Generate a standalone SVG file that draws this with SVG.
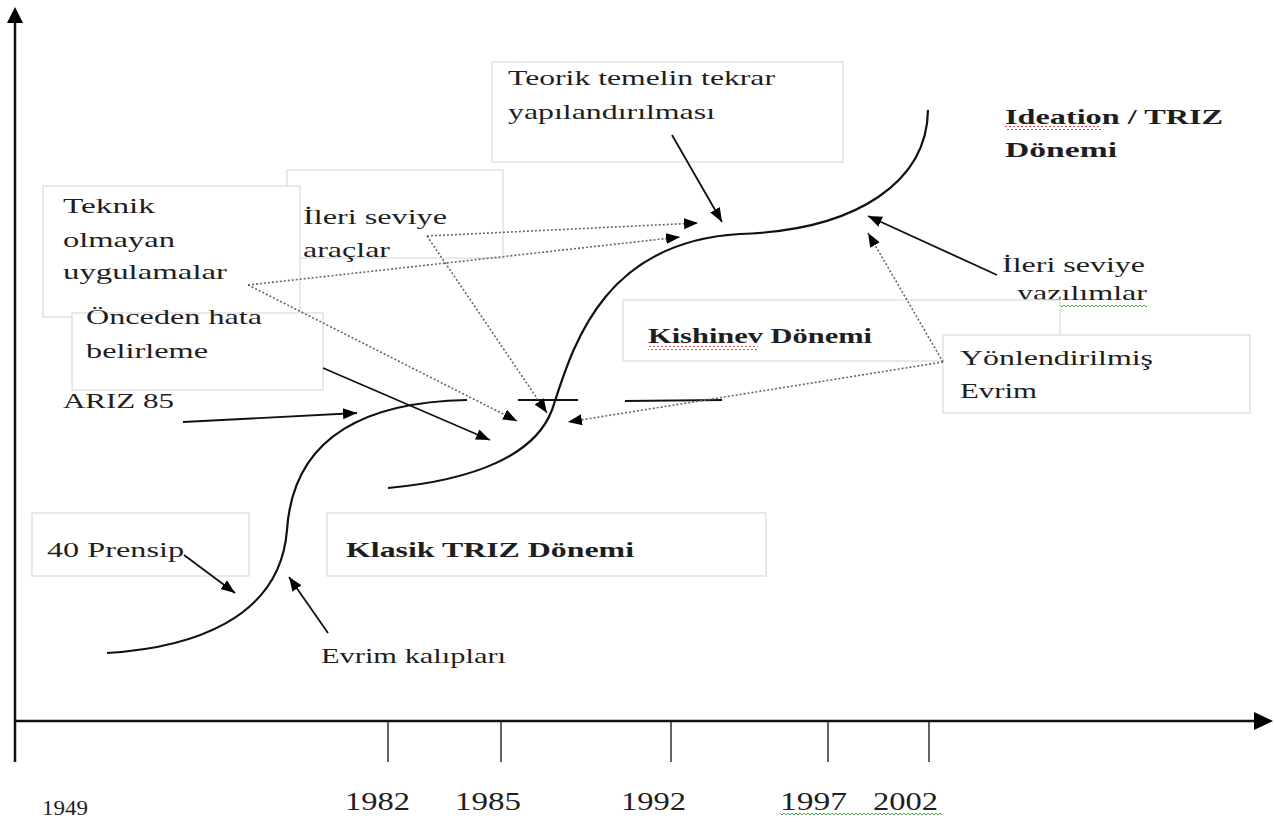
<svg xmlns="http://www.w3.org/2000/svg" width="1274" height="822" viewBox="0 0 1274 822">
<style>
.box{fill:#fff;stroke:#e2e2e2;stroke-width:1.5}
.t{font-family:"Liberation Serif","Times New Roman",serif;font-size:22px;fill:#1e1e1e}
.b{font-weight:bold}
.yr{font-size:26px}
.curve{fill:none;stroke:#111;stroke-width:2.2}
.sol{fill:none;stroke:#111;stroke-width:1.8;marker-end:url(#ah)}
.dot{fill:none;stroke:#666;stroke-width:1.6;stroke-dasharray:2 2;marker-end:url(#ah)}
.axis{stroke:#111;stroke-width:2.5}
.tick{stroke:#111;stroke-width:1.3}
</style>
<defs>
<marker id="ah" markerUnits="userSpaceOnUse" markerWidth="16" markerHeight="12" refX="14" refY="5.5" orient="auto">
<path d="M0,0 L14,5.5 L0,11 z" fill="#000"/>
</marker>
<pattern id="redw" width="4" height="4" patternUnits="userSpaceOnUse">
<polyline points="0,1 2,3 4,1" fill="none" stroke="#e03030" stroke-width="0.9"/>
</pattern>
<pattern id="grnw" width="4" height="4" patternUnits="userSpaceOnUse">
<polyline points="0,1 2,3 4,1" fill="none" stroke="#3a9a3a" stroke-width="0.9"/>
</pattern>
</defs>
<rect width="1274" height="822" fill="#fff"/>

<g id="axes">
<line class="axis" x1="15" y1="20" x2="15" y2="762"/>
<polygon points="15,7 7,23 23,23" fill="#000"/>
<line class="axis" x1="15" y1="721" x2="1256" y2="721"/>
<polygon points="1273,721 1254,712 1254,730" fill="#000"/>
<line class="tick" x1="388" y1="721" x2="388" y2="762"/>
<line class="tick" x1="501" y1="721" x2="501" y2="762"/>
<line class="tick" x1="671" y1="721" x2="671" y2="762"/>
<line class="tick" x1="828" y1="721" x2="828" y2="762"/>
<line class="tick" x1="929" y1="721" x2="929" y2="762"/>
<text class="t" x="42" y="815" font-size="20" textLength="46" lengthAdjust="spacingAndGlyphs">1949</text>
<text class="t yr" x="345" y="810" textLength="65" lengthAdjust="spacingAndGlyphs">1982</text>
<text class="t yr" x="455" y="810" textLength="66" lengthAdjust="spacingAndGlyphs">1985</text>
<text class="t yr" x="621" y="810" textLength="65" lengthAdjust="spacingAndGlyphs">1992</text>
<text class="t yr" x="780" y="810" textLength="67" lengthAdjust="spacingAndGlyphs">1997</text>
<text class="t yr" x="873" y="810" textLength="65" lengthAdjust="spacingAndGlyphs">2002</text>
<rect x="780" y="812" width="162" height="4" fill="url(#grnw)"/>
</g>

<g id="curves">
<path class="curve" d="M107,653 C190,648 280,620 287,530 C293,440 360,402 467,400"/>
<path class="curve" d="M388,488 C475,480 535,455 552,410 C572,350 600,242 740,234 C860,230 927,180 928,110"/>
<line class="curve" x1="518" y1="400" x2="578" y2="400"/>
<line class="curve" x1="625" y1="401" x2="722" y2="400"/>
</g>

<g id="node-ileri-araclar">
<rect class="box" x="287" y="170" width="216" height="88"/>
<text class="t" x="303" y="224" textLength="144" lengthAdjust="spacingAndGlyphs">İleri seviye</text>
<text class="t" x="303" y="257" textLength="87" lengthAdjust="spacingAndGlyphs">araçlar</text>
</g>

<g id="node-teknik">
<rect class="box" x="43" y="186" width="257" height="131"/>
<text class="t" x="63" y="213" textLength="92" lengthAdjust="spacingAndGlyphs">Teknik</text>
<text class="t" x="63" y="247" textLength="112" lengthAdjust="spacingAndGlyphs">olmayan</text>
<text class="t" x="63" y="279" textLength="164" lengthAdjust="spacingAndGlyphs">uygulamalar</text>
</g>

<g id="node-onceden">
<rect class="box" x="72" y="313" width="251" height="77"/>
<text class="t" x="86" y="324" textLength="176" lengthAdjust="spacingAndGlyphs">Önceden hata</text>
<text class="t" x="86" y="358" textLength="122" lengthAdjust="spacingAndGlyphs">belirleme</text>
</g>

<g id="node-ariz">
<text class="t" x="63" y="408" textLength="111" lengthAdjust="spacingAndGlyphs">ARIZ 85</text>
</g>

<g id="node-teorik">
<rect class="box" x="492" y="62" width="351" height="100"/>
<text class="t" x="508" y="85" textLength="267" lengthAdjust="spacingAndGlyphs">Teorik temelin tekrar</text>
<text class="t" x="508" y="119" textLength="207" lengthAdjust="spacingAndGlyphs">yapılandırılması</text>
</g>

<g id="node-ideation">
<text class="t b" x="1005" y="124" textLength="218" lengthAdjust="spacingAndGlyphs">Ideation / TRIZ</text>
<text class="t b" x="1005" y="157" textLength="112" lengthAdjust="spacingAndGlyphs">Dönemi</text>
<rect x="1005" y="126" width="96" height="4" fill="url(#redw)"/>
</g>

<g id="node-ileri-yazilim">
<text class="t" x="1002" y="272" textLength="143" lengthAdjust="spacingAndGlyphs">İleri seviye</text>
<text class="t" x="1017" y="300" textLength="130" lengthAdjust="spacingAndGlyphs">yazılımlar</text>
<rect x="1017" y="303" width="130" height="4" fill="url(#grnw)"/>
</g>

<g id="node-kishinev">
<rect class="box" x="623" y="300" width="437" height="61"/>
<text class="t b" x="648" y="343" textLength="224" lengthAdjust="spacingAndGlyphs">Kishinev Dönemi</text>
<rect x="648" y="346" width="110" height="4" fill="url(#redw)"/>
</g>

<g id="node-yonlendirilmis">
<rect class="box" x="943" y="335" width="307" height="78"/>
<text class="t" x="960" y="365" textLength="193" lengthAdjust="spacingAndGlyphs">Yönlendirilmiş</text>
<text class="t" x="960" y="398" textLength="77" lengthAdjust="spacingAndGlyphs">Evrim</text>
</g>

<g id="node-40prensip">
<rect class="box" x="32" y="513" width="217" height="63"/>
<text class="t" x="47" y="557" textLength="137" lengthAdjust="spacingAndGlyphs">40 Prensip</text>
</g>

<g id="node-klasik">
<rect class="box" x="327" y="513" width="439" height="63"/>
<text class="t b" x="346" y="557" textLength="288" lengthAdjust="spacingAndGlyphs">Klasik TRIZ Dönemi</text>
</g>

<g id="node-evrim-kaliplari">
<text class="t" x="321" y="663" textLength="185" lengthAdjust="spacingAndGlyphs">Evrim kalıpları</text>
</g>

<g id="connectors">
<line class="sol" x1="183" y1="422" x2="357" y2="413"/>
<line class="sol" x1="323" y1="368" x2="490" y2="440"/>
<line class="sol" x1="672" y1="135" x2="722" y2="222"/>
<line class="sol" x1="997" y1="275" x2="868" y2="216"/>
<line class="sol" x1="184" y1="555" x2="235" y2="593"/>
<line class="sol" x1="328" y1="633" x2="289" y2="577"/>
<line class="dot" x1="248" y1="285" x2="680" y2="237"/>
<line class="dot" x1="248" y1="285" x2="517" y2="421"/>
<line class="dot" x1="427" y1="236" x2="698" y2="223"/>
<line class="dot" x1="427" y1="236" x2="547" y2="413"/>
<line class="dot" x1="943" y1="362" x2="868" y2="233"/>
<line class="dot" x1="943" y1="362" x2="568" y2="422"/>
</g>
</svg>
